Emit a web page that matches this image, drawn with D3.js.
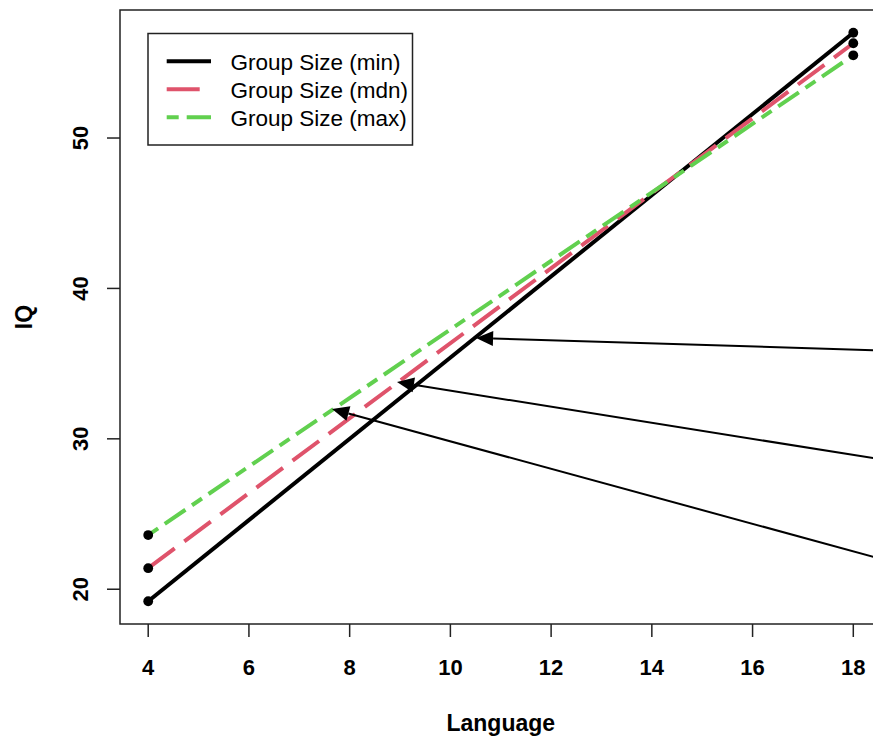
<!DOCTYPE html>
<html>
<head>
<meta charset="utf-8">
<script src="https://cdn.jsdelivr.net/npm/d3@7"></script>
<style>
  html, body { margin: 0; padding: 0; background: #fff; }
  svg { display: block; font-family: "Liberation Sans", Arial, sans-serif; }
</style>
</head>
<body>
<svg id="chart" width="873" height="741"></svg>
<script>
// ---- data ----
const xVals = [4, 18];
const iqMin = [19.2, 57.0];
const iqMdn = [21.4, 56.3];
const iqMax = [23.6, 55.5];
const seriesNames = ["Group Size (min)", "Group Size (mdn)", "Group Size (max)"];
const xTicks = [4, 6, 8, 10, 12, 14, 16, 18];
const yTicks = [20, 30, 40, 50];
const arrowHeadX = [10.51, 8.94, 7.65];
const arrowHeadY = [36.7, 33.77, 31.98];
const arrowTailX = [18.56, 18.56, 18.56];
const arrowTailY = [35.88, 28.63, 22.01];

// ---- styles ----
const colors = ["#000000", "#DF536B", "#61D04F"];
const dashes = [null, "33,12", "12,8,25,8"];

(function () {
const svg = d3.select("#chart");
const pLeft = 120, pRight = 881.5, pTop = 10, pBottom = 624;

// R style 4% padding
const allY = iqMin.concat(iqMdn, iqMax);
const xMin = d3.min(xVals), xMax = d3.max(xVals);
const yMin = d3.min(allY), yMax = d3.max(allY);
const xPad = (xMax - xMin) * 0.04, yPad = (yMax - yMin) * 0.04;

const x = d3.scaleLinear().domain([xMin - xPad, xMax + xPad]).range([pLeft, pRight]);
const y = d3.scaleLinear().domain([yMin - yPad, yMax + yPad]).range([pBottom, pTop]);

svg.append("defs").append("clipPath").attr("id", "plotclip")
  .append("rect").attr("x", pLeft).attr("y", pTop)
  .attr("width", pRight - pLeft).attr("height", pBottom - pTop);

const plot = svg.append("g").attr("clip-path", "url(#plotclip)");

const series = [iqMin, iqMdn, iqMax];
const line = d3.line().x(d => x(d[0])).y(d => y(d[1]));

series.forEach((vals, i) => {
  const pts = xVals.map((xv, j) => [xv, vals[j]]);
  plot.append("path")
    .attr("d", line(pts))
    .attr("fill", "none")
    .attr("stroke", colors[i])
    .attr("stroke-width", 4)
    .attr("stroke-dasharray", dashes[i])
    .attr("stroke-linecap", "butt");
});
series.forEach((vals) => {
  xVals.forEach((xv, j) => {
    plot.append("circle")
      .attr("cx", x(xv)).attr("cy", y(vals[j])).attr("r", 4.9)
      .attr("fill", "#000");
  });
});

// arrows
arrowHeadX.forEach((hx, i) => {
  const x1 = x(arrowTailX[i]), y1 = y(arrowTailY[i]);
  const x2 = x(hx), y2 = y(arrowHeadY[i]);
  const ang = Math.atan2(y2 - y1, x2 - x1);
  const len = 17, hw = 7.5;
  const bx = x2 - len * Math.cos(ang), by = y2 - len * Math.sin(ang);
  plot.append("line")
    .attr("x1", x1).attr("y1", y1).attr("x2", bx).attr("y2", by)
    .attr("stroke", "#000").attr("stroke-width", 2);
  const p = [
    [x2, y2],
    [bx + hw * Math.sin(ang), by - hw * Math.cos(ang)],
    [bx - hw * Math.sin(ang), by + hw * Math.cos(ang)]
  ];
  plot.append("polygon").attr("points", p.map(q => q.join(",")).join(" "))
    .attr("fill", "#000");
});

// box
svg.append("rect")
  .attr("x", pLeft).attr("y", pTop)
  .attr("width", pRight - pLeft).attr("height", pBottom - pTop)
  .attr("fill", "none").attr("stroke", "#222").attr("stroke-width", 1.5);

// x axis
const xg = svg.append("g");
xTicks.forEach(t => {
  xg.append("line").attr("x1", x(t)).attr("x2", x(t))
    .attr("y1", pBottom).attr("y2", pBottom + 13)
    .attr("stroke", "#222").attr("stroke-width", 1.5);
  xg.append("text").attr("x", x(t)).attr("y", 675)
    .attr("text-anchor", "middle").attr("font-size", 22).attr("font-weight", "bold")
    .text(t);
});
// y axis
const yg = svg.append("g");
yTicks.forEach(t => {
  yg.append("line").attr("x1", pLeft - 13).attr("x2", pLeft)
    .attr("y1", y(t)).attr("y2", y(t))
    .attr("stroke", "#222").attr("stroke-width", 1.5);
  yg.append("text").attr("transform", `translate(88,${y(t)}) rotate(-90)`)
    .attr("text-anchor", "middle").attr("font-size", 22).attr("font-weight", "bold")
    .text(t);
});

// axis titles
svg.append("text").attr("x", (pLeft + pRight) / 2).attr("y", 731)
  .attr("text-anchor", "middle").attr("font-size", 23).attr("font-weight", "bold")
  .text("Language");
svg.append("text").attr("transform", `translate(32,${(pTop + pBottom) / 2}) rotate(-90)`)
  .attr("text-anchor", "middle").attr("font-size", 23).attr("font-weight", "bold")
  .text("IQ");

// legend
const lg = svg.append("g");
lg.append("rect").attr("x", 148).attr("y", 33.5).attr("width", 264.5).attr("height", 111.5)
  .attr("fill", "#fff").attr("stroke", "#222").attr("stroke-width", 1.5);
seriesNames.forEach((name, i) => {
  const ly = 61.3 + i * 28;
  lg.append("line").attr("x1", 166.7).attr("x2", 211).attr("y1", ly).attr("y2", ly)
    .attr("stroke", colors[i]).attr("stroke-width", 4)
    .attr("stroke-dasharray", dashes[i]);
  lg.append("text").attr("x", 230.5).attr("y", ly + 9)
    .attr("font-size", 22.5).text(name);
});
})();
</script>
</body>
</html>
